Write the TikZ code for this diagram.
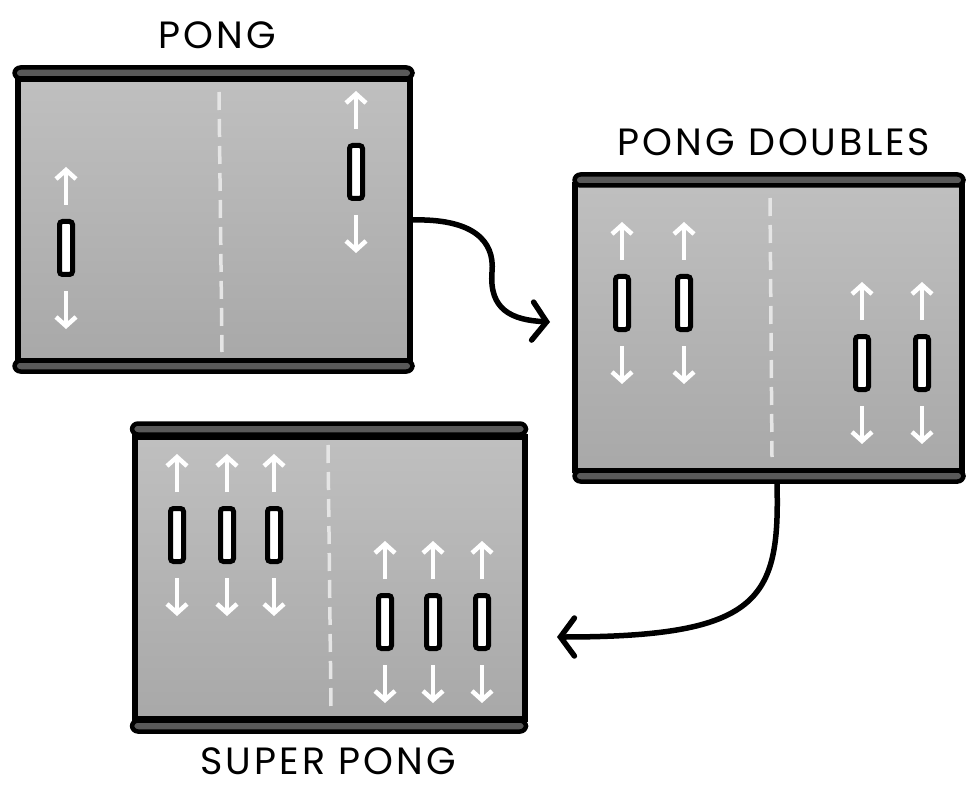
\documentclass[tikz,border=0pt]{standalone}
\usepackage{fontspec}
\setmainfont{Poppins}
\usetikzlibrary{arrows.meta}
\tikzset{
  court/.style={draw=black, line width=5.5pt, top color=black!25, bottom color=black!34, minimum width=#1, inner sep=0pt, outer sep=0pt},
  bar/.style={draw=black, line width=4.5pt, fill=black!65, rounded corners=6pt, minimum height=11pt, minimum width=#1, inner sep=0pt},
  paddle/.style={draw=black, line width=5pt, fill=white, rounded corners=3pt, minimum width=13pt, minimum height=53pt, inner sep=0pt},
  warrow/.style={draw=white, line width=4.5pt, -{Straight Barb[length=9pt,width=20pt]}},
  netline/.style={draw=black!10, line width=3.5pt, dash pattern=on 18pt off 9pt},
  link/.style={draw=black, line width=5.5pt, line cap=round, -{Straight Barb[length=14pt,width=38pt,line cap=round]}},
  title/.style={font=\fontsize{38}{42}\selectfont\addfontfeatures{LetterSpace=8}, text=black, inner sep=0pt}
}
\newcommand\mypaddle[3]{%
  \node[paddle] (#1) at (#2,#3) {};
  \draw[warrow] ([yshift=14pt]#1.north) -- ([yshift=52pt]#1.north);
  \draw[warrow] ([yshift=-14pt]#1.south) -- ([yshift=-52pt]#1.south);
}
\begin{document}
\begin{tikzpicture}[x=1pt,y=-1pt]
\useasboundingbox (0,0) rectangle (966,786);
% titles
\node[title] (t1) at (217,35) {PONG};
\node[title] (t2) at (774,142) {PONG DOUBLES};
\node[title] (t3) at (328,761) {SUPER PONG};
% panel 1
\node[court=392pt, minimum height=282pt] (p1) at (214,220) {};
\draw[netline] (219,92) -- (222,352);
\node[bar=398pt] (p1t) at (213.5,73) {};
\node[bar=398pt] (p1b) at (213.5,366) {};
\mypaddle{a1}{66}{248}
\mypaddle{a2}{356}{172}
% panel 2
\node[court=387pt, minimum height=286pt] (p2) at (768.5,327.5) {};
\draw[netline] (770,198) -- (772,457);
\node[bar=389pt] (p2t) at (769,180) {};
\node[bar=389pt] (p2b) at (769,476) {};
\mypaddle{b1}{622}{303}
\mypaddle{b2}{684}{303}
\mypaddle{b3}{862}{363}
\mypaddle{b4}{922}{363}
% panel 3
\node[court=390pt, minimum height=282pt] (p3) at (330,578) {};
\draw[netline] (328,445) -- (331,707);
\node[bar=394pt] (p3t) at (329,429) {};
\node[bar=394pt] (p3b) at (329,726) {};
\mypaddle{c1}{177}{535}
\mypaddle{c2}{227}{535}
\mypaddle{c3}{274}{535}
\mypaddle{c4}{385}{622}
\mypaddle{c5}{433}{622}
\mypaddle{c6}{482}{622}
% connectors
\coordinate (e1) at (550,322);
\coordinate (e2) at (557,637);
\draw[link] (p1.east) .. controls (472,218) and (495,240) .. (492,272) .. controls (489,310) and (512,320) .. (e1);
\draw[link] ([xshift=8pt]p2b.south) .. controls (780,600) and (760,637) .. (e2);
\end{tikzpicture}
\end{document}
